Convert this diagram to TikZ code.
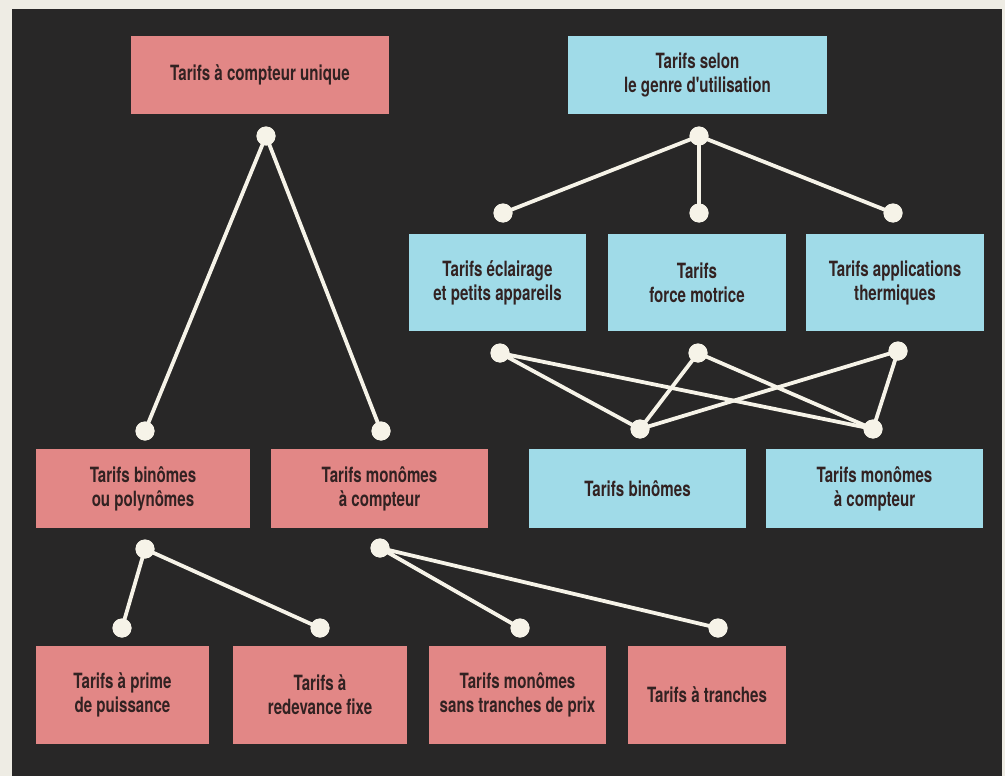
\documentclass[tikz,border=0pt]{standalone}
\usepackage{fontspec}
\newfontfamily\lab[FakeStretch=0.72]{TeX Gyre Heros}
\definecolor{bgdark}{RGB}{40,39,39}
\definecolor{pinkc}{RGB}{226,135,134}
\definecolor{bluec}{RGB}{160,219,232}
\definecolor{txt}{RGB}{50,34,34}
\definecolor{linec}{RGB}{246,243,232}
\definecolor{paper}{RGB}{238,236,228}
\tikzset{
  box/.style={rectangle, inner sep=0pt, align=center, text=txt,
    font=\lab\bfseries\fontsize{21}{24}\selectfont},
  pinkbox/.style={box, fill=pinkc},
  bluebox/.style={box, fill=bluec},
  dot/.style={circle, fill=linec, inner sep=0pt, minimum size=19pt},
  link/.style={draw=linec, line width=3.8pt}
}
\begin{document}
\begin{tikzpicture}[x=1pt,y=-1pt]
\fill[paper] (0,0) rectangle (1005,776);
\fill[bgdark] (12,9) rectangle (1002,776);
\useasboundingbox (0,0) rectangle (1005,776);
% boxes
\node[pinkbox, minimum width=258pt, minimum height=78pt] (A) at (260,75) {Tarifs à compteur unique};
\node[bluebox, minimum width=259pt, minimum height=78pt] (B) at (697.5,75) {Tarifs selon\\le genre d'utilisation};
\node[bluebox, minimum width=177pt, minimum height=97pt] (C) at (497.5,282.5) {Tarifs éclairage\\et petits appareils};
\node[bluebox, minimum width=178pt, minimum height=97pt] (D) at (697,282.5) {Tarifs\\force motrice};
\node[bluebox, minimum width=178pt, minimum height=97pt] (E) at (895,282.5) {Tarifs applications\\thermiques};
\node[pinkbox, minimum width=214pt, minimum height=79pt] (F) at (143,488.5) {Tarifs binômes\\ou polynômes};
\node[pinkbox, minimum width=217pt, minimum height=79pt] (G) at (379.5,488.5) {Tarifs monômes\\à compteur};
\node[bluebox, minimum width=217pt, minimum height=79pt] (H) at (637.5,488.5) {Tarifs binômes};
\node[bluebox, minimum width=217pt, minimum height=79pt] (I) at (874.5,488.5) {Tarifs monômes\\à compteur};
\node[pinkbox, minimum width=173pt, minimum height=98pt] (J) at (122.5,695) {Tarifs à prime\\de puissance};
\node[pinkbox, minimum width=174pt, minimum height=98pt] (K) at (320,695) {Tarifs à\\redevance fixe};
\node[pinkbox, minimum width=177pt, minimum height=98pt] (L) at (517.5,695) {Tarifs monômes\\sans tranches de prix};
\node[pinkbox, minimum width=158pt, minimum height=98pt] (M) at (707,695) {Tarifs à tranches};
% dots
\node[dot] (a0) at (266,136) {};
\node[dot] (a1) at (145,431) {};
\node[dot] (a2) at (381,431) {};
\node[dot] (b0) at (699,136) {};
\node[dot] (b1) at (503,213) {};
\node[dot] (b2) at (699,213) {};
\node[dot] (b3) at (893,213) {};
\node[dot] (c1) at (500,353) {};
\node[dot] (c2) at (698,353) {};
\node[dot] (c3) at (898,351) {};
\node[dot] (d1) at (640,429) {};
\node[dot] (d2) at (873,429) {};
\node[dot] (f0) at (145,549) {};
\node[dot] (f1) at (122,628) {};
\node[dot] (f2) at (320,628) {};
\node[dot] (g0) at (380,548) {};
\node[dot] (g1) at (520,628) {};
\node[dot] (g2) at (718,628) {};
% links
\draw[link] (a0.center) -- (a1.center) (a0.center) -- (a2.center);
\draw[link] (b0.center) -- (b1.center) (b0.center) -- (b2.center) (b0.center) -- (b3.center);
\draw[link] (c1.center) -- (d1.center) (c1.center) -- (d2.center);
\draw[link] (c2.center) -- (d1.center) (c2.center) -- (d2.center);
\draw[link] (c3.center) -- (d1.center) (c3.center) -- (d2.center);
\draw[link] (f0.center) -- (f1.center) (f0.center) -- (f2.center);
\draw[link] (g0.center) -- (g1.center) (g0.center) -- (g2.center);
% redraw dots on top
\foreach \d in {a0,a1,a2,b0,b1,b2,b3,c1,c2,c3,d1,d2,f0,f1,f2,g0,g1,g2}
  \fill[linec] (\d.center) circle (9.5pt);
\end{tikzpicture}
\end{document}
